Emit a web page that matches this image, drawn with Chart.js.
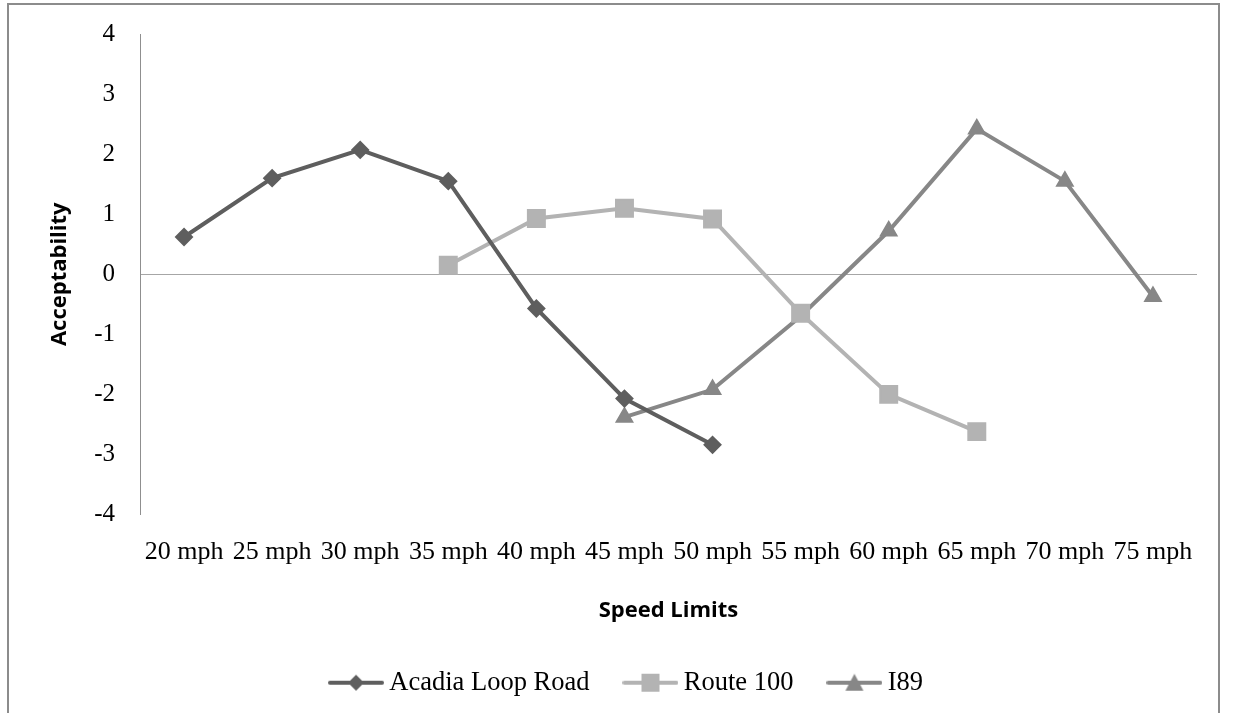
<!DOCTYPE html>
<html>
<head>
<meta charset="utf-8">
<script src="https://cdn.jsdelivr.net/npm/chart.js@4/dist/chart.umd.min.js"></script>
<style>
  html, body { margin: 0; padding: 0; background: #fff; overflow: hidden; }
  #frame {
    position: absolute; left: 7px; top: 3px; width: 1209px; height: 712px;
    border: 2px solid #8c8c8c; border-bottom: none; background: #fff;
  }
  #chart { display: block; }
</style>
</head>
<body>
<div id="frame"><canvas id="chart" width="1209" height="708"></canvas></div>
<script>
// speed limit categories and acceptability scores per road
const speedLabels = ['20 mph', '25 mph', '30 mph', '35 mph', '40 mph', '45 mph',
                     '50 mph', '55 mph', '60 mph', '65 mph', '70 mph', '75 mph'];
const acadiaLoopRoad = [0.62, 1.60, 2.07, 1.55, -0.57, -2.07, -2.84, null, null, null, null, null];
const route100 = [null, null, null, 0.15, 0.93, 1.10, 0.92, -0.65, -2.00, -2.62, null, null];
const i89 = [null, null, null, null, null, -2.38, -1.92, -0.70, 0.72, 2.42, 1.55, -0.37];
const yTicks = [-4, -3, -2, -1, 0, 1, 2, 3, 4];

const seriesColors = ['#5e5e5e', '#b3b3b3', '#878787'];

Chart.defaults.font.family = '"Liberation Serif", "Times New Roman", serif';
Chart.defaults.color = '#000';

// legend icon: a short line with the series marker on it
function legendIcon(color, shape) {
    const c = document.createElement('canvas');
    c.width = 56; c.height = 22;
    const g = c.getContext('2d');
    g.strokeStyle = color;
    g.fillStyle = color;
    g.lineWidth = 4;
    g.lineCap = 'round';
    g.beginPath();
    g.moveTo(2, 11); g.lineTo(54, 11);
    g.stroke();
    g.beginPath();
    if (shape === 'diamond') {
        g.moveTo(28, 3); g.lineTo(36, 11); g.lineTo(28, 19); g.lineTo(20, 11);
    } else if (shape === 'square') {
        g.rect(19, 2, 18, 18);
    } else {
        g.moveTo(28, 2); g.lineTo(37, 19); g.lineTo(19, 19);
    }
    g.closePath();
    g.fill();
    return c;
}
const legendIcons = [
    legendIcon(seriesColors[0], 'diamond'),
    legendIcon(seriesColors[1], 'square'),
    legendIcon(seriesColors[2], 'triangle')
];

function lineSet(label, data, color, style, radius) {
    return {
        label: label,
        data: data,
        borderColor: color,
        backgroundColor: color,
        borderWidth: 4,
        pointStyle: style,
        pointRadius: radius,
        pointBorderWidth: 2,
        pointBorderColor: color,
        pointBackgroundColor: color,
        tension: 0,
        spanGaps: false
    };
}

const titleFont = { family: '"Open Sans", sans-serif', size: 22, weight: 'bold' };

const ctx = document.getElementById('chart').getContext('2d');
new Chart(ctx, {
    type: 'line',
    data: {
        labels: speedLabels,
        datasets: [
            lineSet('Acadia Loop Road', acadiaLoopRoad, seriesColors[0], 'rectRot', 8),
            lineSet('Route 100', route100, seriesColors[1], 'rect', 12),
            lineSet('I89', i89, seriesColors[2], 'triangle', 9)
        ]
    },
    options: {
        responsive: false,
        animation: false,
        layout: {
            padding: { top: 29, right: 21, bottom: 7, left: 53 }
        },
        plugins: {
            tooltip: { enabled: false },
            legend: {
                position: 'bottom',
                labels: {
                    usePointStyle: true,
                    pointStyleWidth: 40,
                    padding: 41,
                    font: { size: 26.5 },
                    generateLabels: function(chart) {
                        const items = Chart.defaults.plugins.legend.labels.generateLabels(chart);
                        items.forEach(function(it, i) { it.pointStyle = legendIcons[i]; });
                        return items;
                    }
                }
            }
        },
        scales: {
            x: {
                offset: true,
                grid: { display: false, drawTicks: false },
                border: { display: false },
                ticks: {
                    autoSkip: false,
                    maxRotation: 0,
                    minRotation: 0,
                    padding: 22,
                    font: { size: 26 }
                },
                title: {
                    display: true,
                    text: 'Speed Limits',
                    padding: { top: 0, bottom: 5 },
                    font: titleFont
                },
                afterFit: function(scale) { scale.height = 114; }
            },
            y: {
                min: -4,
                max: 4,
                afterBuildTicks: function(scale) {
                    scale.ticks = yTicks.map(function(v) { return { value: v }; });
                },
                grid: {
                    drawTicks: false,
                    color: function(c) { return c.tick && c.tick.value === 0 ? '#a6a6a6' : 'rgba(0,0,0,0)'; },
                    lineWidth: 1
                },
                border: { display: true, color: '#8f8f8f', width: 1 },
                ticks: {
                    padding: 25,
                    font: { size: 25 }
                },
                title: {
                    display: true,
                    text: 'Acceptability',
                    padding: { top: -15, bottom: 0 },
                    font: titleFont
                },
                afterFit: function(scale) {
                    // fixed axis width; the tick labels may overhang the plot top/bottom
                    scale.width = 78;
                    scale.paddingTop = 0;
                    scale.paddingBottom = 0;
                }
            }
        }
    }
});
</script>
</body>
</html>
